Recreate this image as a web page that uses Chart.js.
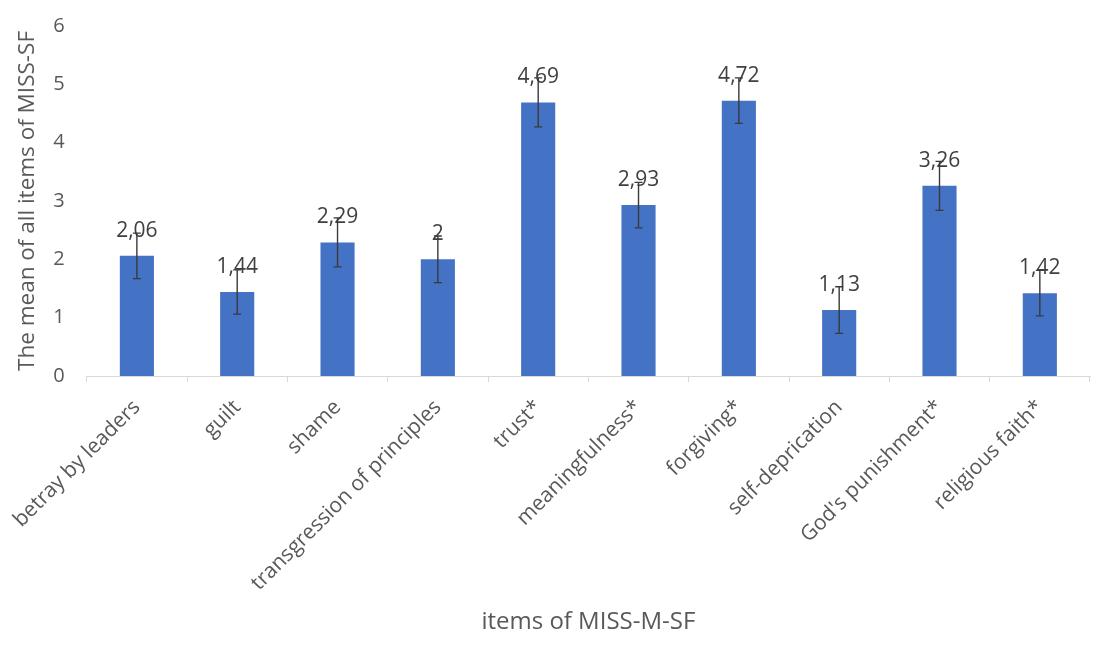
<!DOCTYPE html>
<html>
<head>
<meta charset="utf-8">
<script src="https://cdn.jsdelivr.net/npm/chart.js@4/dist/chart.umd.min.js"></script>
<style>
  html, body { margin: 0; padding: 0; background: #fff; }
  #wrap { width: 1112px; height: 659px; }
</style>
</head>
<body>
<div id="wrap"><canvas id="c"></canvas></div>
<script>
const categories = ['betray by leaders', 'guilt', 'shame', 'transgression of principles', 'trust*',
  'meaningfulness*', 'forgiving*', 'self-deprication', "God's punishment*", 'religious faith*'];
const means = [2.06, 1.44, 2.29, 2, 4.69, 2.93, 4.72, 1.13, 3.26, 1.42];
const errors = [0.39, 0.38, 0.42, 0.4, 0.42, 0.39, 0.39, 0.4, 0.42, 0.39];
const yTitle = 'The mean of all items of MISS-SF';
const xTitle = 'items of MISS-M-SF';

const FONT = "'Open Sans', sans-serif";
const fmt = v => String(v).replace('.', ',');

// value labels first, then the error bars on top of them (as in the original)
const labelsAndErrors = {
  id: 'labelsAndErrors',
  afterDatasetsDraw(chart) {
    const ctx = chart.ctx;
    const y = chart.scales.y;
    const bars = chart.getDatasetMeta(0).data;
    ctx.save();
    ctx.font = '21px ' + FONT;
    ctx.fillStyle = '#404040';
    ctx.textAlign = 'center';
    ctx.textBaseline = 'middle';
    bars.forEach((bar, i) => {
      ctx.fillText(fmt(means[i]), bar.x, y.getPixelForValue(means[i]) - 25);
    });
    ctx.strokeStyle = '#3a3a3a';
    ctx.lineWidth = 1.4;
    bars.forEach((bar, i) => {
      const hi = y.getPixelForValue(means[i] + errors[i]);
      const lo = y.getPixelForValue(means[i] - errors[i]);
      ctx.beginPath();
      ctx.moveTo(bar.x, hi); ctx.lineTo(bar.x, lo);
      ctx.moveTo(bar.x - 4, hi); ctx.lineTo(bar.x + 4, hi);
      ctx.moveTo(bar.x - 4, lo); ctx.lineTo(bar.x + 4, lo);
      ctx.stroke();
    });
    ctx.restore();
  }
};

new Chart(document.getElementById('c'), {
  type: 'bar',
  data: {
    labels: categories,
    datasets: [{
      data: means,
      backgroundColor: '#4472C4',
      categoryPercentage: 1,
      barPercentage: 0.34
    }]
  },
  options: {
    responsive: true,
    maintainAspectRatio: false,
    animation: false,
    layout: { padding: { top: 9, right: 22, bottom: 18, left: 8 } },
    plugins: { legend: { display: false }, tooltip: { enabled: false } },
    scales: {
      x: {
        afterFit: s => { s.height = 265; },
        grid: { display: true, drawOnChartArea: false, offset: true, color: '#d9d9d9', tickLength: 6 },
        border: { display: true, color: '#d9d9d9' },
        ticks: { color: '#595959', font: { family: FONT, size: 21 }, minRotation: 45, maxRotation: 45, autoSkip: false, padding: 13 },
        title: { display: true, text: xTitle, color: '#595959', font: { family: FONT, size: 24 }, padding: { top: 4, bottom: 4 } }
      },
      y: {
        min: 0, max: 6,
        afterFit: s => { s.width = 77; },
        ticks: { stepSize: 1, color: '#595959', font: { family: FONT, size: 20 }, padding: 14 },
        grid: { display: false },
        border: { display: false },
        title: { display: true, text: yTitle, color: '#595959', font: { family: FONT, size: 22.5 }, padding: { top: 4, bottom: 4 } }
      }
    }
  },
  plugins: [labelsAndErrors]
});
</script>
</body>
</html>
